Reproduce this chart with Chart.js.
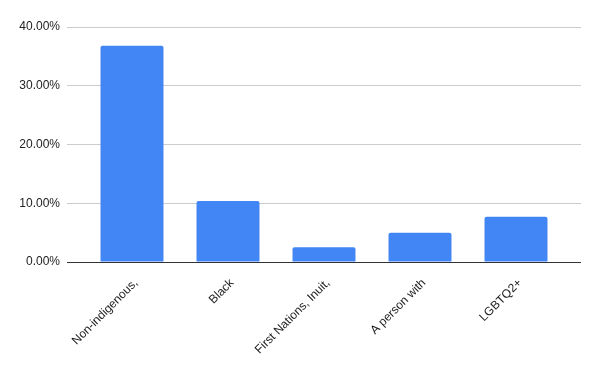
<!DOCTYPE html>
<html>
<head>
<meta charset="utf-8">
<script src="https://cdn.jsdelivr.net/npm/chart.js@4/dist/chart.umd.min.js"></script>
<style>
  html, body { margin: 0; padding: 0; background: #fff; }
  #wrap { width: 600px; height: 371px; }
</style>
</head>
<body>
<div id="wrap"><canvas id="barChart" width="600" height="371"></canvas></div>
<script>
// chart data
const categories = ['Non-indigenous,', 'Black', 'First Nations, Inuit,', 'A person with', 'LGBTQ2+'];
const shares = [36.8, 10.4, 2.5, 5.0, 7.7];
const yMax = 40;
const yStep = 10;

const gridColor = (c) => (c.tick && c.tick.value === 0 ? '#333333' : '#cccccc');

const ctx = document.getElementById('barChart').getContext('2d');

const barChart = new Chart(ctx, {
  type: 'bar',
  data: {
    labels: categories,
    datasets: [{
      label: 'Share',
      data: shares,
      backgroundColor: '#4285f4',
      borderRadius: { topLeft: 2, topRight: 2 },
      borderSkipped: 'bottom',
      categoryPercentage: 1,
      barPercentage: 0.656
    }]
  },
  options: {
    responsive: false,
    animation: false,
    layout: { padding: { top: 27, left: 0, right: 0, bottom: 0 } },
    scales: {
      x: {
        grid: { display: false },
        border: { display: false },
        ticks: {
          minRotation: 45,
          maxRotation: 45,
          autoSkip: false,
          padding: 6,
          labelOffset: 4,
          color: '#222222',
          font: { family: 'Liberation Sans', size: 12 }
        },
        afterFit: (scale) => { scale.height = 109; }
      },
      y: {
        min: 0,
        max: yMax,
        grid: { color: gridColor, lineWidth: 1, tickLength: 17 },
        border: { display: false },
        ticks: {
          stepSize: yStep,
          padding: 7,
          color: '#222222',
          font: { family: 'Liberation Sans', size: 12 },
          callback: (v) => v.toFixed(2) + '%'
        },
        afterFit: (scale) => { scale.width = 84; }
      },
      y2: {
        position: 'right',
        min: 0,
        max: yMax,
        grid: { color: gridColor, lineWidth: 1, tickLength: 17, drawOnChartArea: false },
        border: { display: false },
        ticks: { stepSize: yStep, display: false },
        afterFit: (scale) => { scale.width = 36; }
      }
    },
    plugins: {
      legend: { display: false },
      tooltip: { enabled: false }
    }
  }
});
</script>
</body>
</html>
